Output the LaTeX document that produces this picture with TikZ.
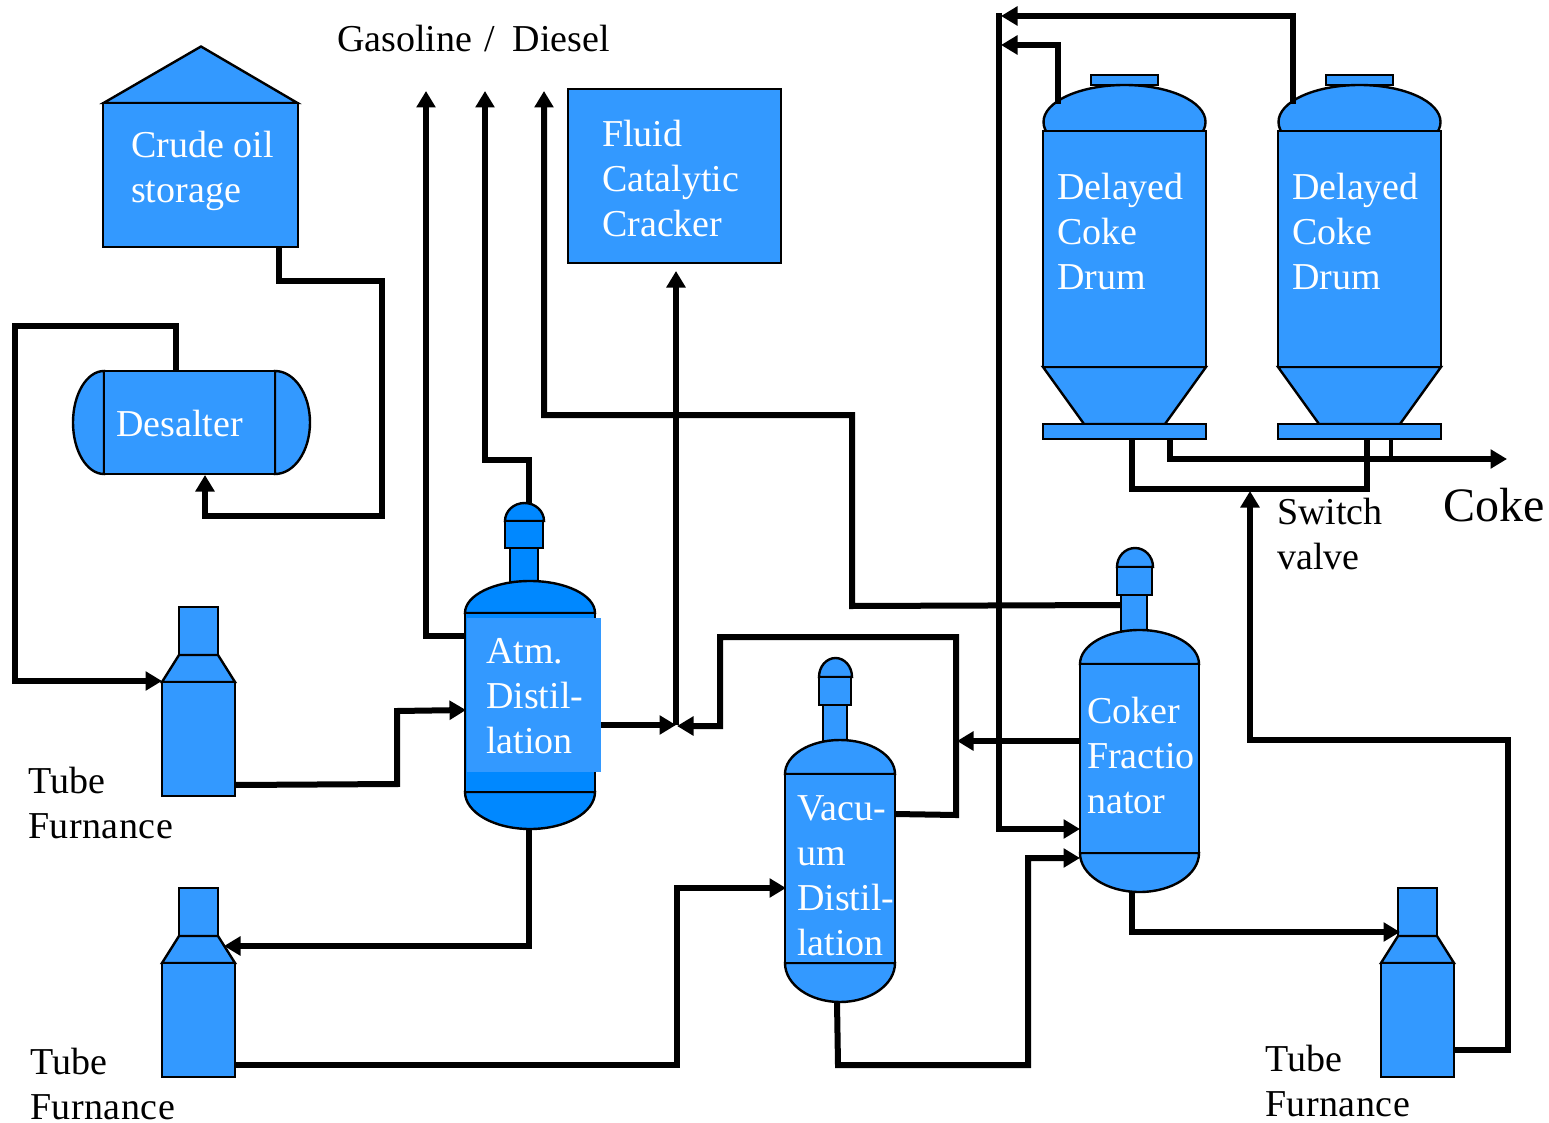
\documentclass[tikz,border=0pt]{standalone}
\usepackage{fontspec}
\setmainfont{Liberation Serif}
\usetikzlibrary{arrows.meta}
\definecolor{blu}{HTML}{3399FF}
\definecolor{dblu}{HTML}{0088FF}
\tikzset{
  part/.style={draw=black,line width=2.4pt,fill=blu,line join=miter},
  dpart/.style={draw=black,line width=2.4pt,fill=dblu,line join=miter},
  flat/.style={fill=blu,draw=none},
  pipe/.style={draw=black,line width=6pt,line join=miter,line cap=butt},
  thinpipe/.style={draw=black,line width=4.5pt,line cap=butt},
  flow/.style={pipe,-{Triangle[length=16.5pt,width=18.5pt]}},
  wlab/.style={text=white,anchor=base west,inner sep=0,font=\fontsize{38}{45}\selectfont},
  blab/.style={text=black,anchor=base west,inner sep=0,font=\fontsize{38}{45}\selectfont},
  biglab/.style={text=black,anchor=base west,inner sep=0,font=\fontsize{48}{55}\selectfont}
}
\newcommand{\pbox}[6]{%
  \pgfmathsetmacro\pbcx{(#2+#4)/2}\pgfmathsetmacro\pbcy{(#3+#5)/2}%
  \pgfmathsetmacro\pbw{#4-#2}\pgfmathsetmacro\pbh{#5-#3}%
  \node[#6,minimum width=\pbw pt,minimum height=\pbh pt,inner sep=0pt,outer sep=0pt] (#1) at (\pbcx,\pbcy) {};}
\newcommand{\lines}[1]{\begin{tabular}[t]{@{}l@{}}#1\end{tabular}}
% vessel: name, style, xL, xR, headTop, bodyTop, bodyBot, botEnd
\newcommand{\vessel}[8]{%
  \pgfmathsetmacro\vrx{(#4-#3)/2}\pgfmathsetmacro\vtp{#6-#5}\pgfmathsetmacro\vbt{#8-#7}%
  \path[#2] (#3,#6) arc[start angle=180,end angle=360,x radius=\vrx,y radius=\vtp] -- cycle;
  \path[#2] (#3,#7) arc[start angle=180,end angle=0,x radius=\vrx,y radius=\vbt] -- cycle;
  \pbox{#1}{#3}{#6}{#4}{#7}{#2}}
% top fitting: style, domeL, domeR, domeTop, domeBot, boxL, boxR, boxBot
\newcommand{\fitting}[8]{%
  \pgfmathsetmacro\frx{(#3-#2)/2}\pgfmathsetmacro\fry{#5-#4}%
  \path[#1] (#2,#5) arc[start angle=180,end angle=360,x radius=\frx,y radius=\fry] -- cycle;
  \path[#1] (#6,#5) rectangle (#7,#8);}
% furnace: dx, dy
\newcommand{\furnace}[2]{%
  \begin{scope}[shift={(#1,#2)}]
  \path[part] (179,607) rectangle (218,655);
  \path[part] (179,655) -- (218,655) -- (235,682) -- (162,682) -- cycle;
  \path[part] (162,682) rectangle (235,796);
  \end{scope}}
% coke drum
\newcommand{\drum}[2]{%
  \begin{scope}[shift={(#2,0)}]
  \path[part] (1091,75) rectangle (1158,85);
  \path[part] (1124.5,122) ellipse[x radius=81,y radius=37];
  \path[part] (1043,367) -- (1206,367) -- (1165,424) -- (1084,424) -- cycle;
  \path[part] (1043,424) rectangle (1206,439);
  \path[part] (1043,131) rectangle (1206,367);
  \node[wlab] (#1lab) at (1057,200) {\lines{Delayed\\Coke\\Drum}};
  \end{scope}}
\begin{document}
\begin{tikzpicture}[x=1pt,y=-1pt]
\useasboundingbox (0,0) rectangle (1549,1123);
% crude storage
\path[part] (103.5,103) -- (201,46.5) -- (297.5,103) -- cycle;
\pbox{crude}{103}{103}{298}{247}{part}
\node[wlab] (crudelab) at (131,158) {\lines{Crude oil\\storage}};
% FCC
\pbox{fcc}{568}{89}{781}{263}{part}
\node[wlab] (fcclab) at (602,147) {\lines{Fluid\\Catalytic\\Cracker}};
% desalter
\path[part] (104,371) arc[start angle=270,end angle=90,x radius=31,y radius=51.5] -- cycle;
\path[part] (275,371) arc[start angle=270,end angle=450,x radius=35,y radius=51.5] -- cycle;
\pbox{desalter}{104}{371}{275}{474}{part}
\node[wlab] (desalterlab) at (116,436) {Desalter};
% furnaces
\furnace{0}{0}
\furnace{0}{281}
\furnace{1219}{281}
% atmospheric column
\path[dpart] (510,548) rectangle (538,582);
\fitting{dpart}{505}{544}{503}{521}{505}{543}{548}
\vessel{atm}{dpart}{465}{595}{581}{613}{792}{829}
\pbox{atmtext}{467}{618}{601}{772}{flat}
\node[wlab] (atmlab) at (486,663) {\lines{Atm.\\Distil-\\lation}};
% vacuum column
\path[part] (823,705) rectangle (847,741);
\fitting{part}{819}{852}{658}{677}{819}{851}{705}
\vessel{vac}{part}{785}{895}{740}{774}{963}{1002}
\node[wlab] (vaclab) at (797,820) {\lines{Vacu-\\um\\Distil-\\lation}};
% coker fractionator
\path[part] (1121,595) rectangle (1147,631);
\fitting{part}{1117}{1153}{548}{567}{1117}{1152}{595}
\vessel{cok}{part}{1080}{1199}{630}{664}{853}{892}
\node[wlab] (coklab) at (1087,723) {\lines{Coker\\Fractio\\nator}};
% drums
\drum{da}{0}
\drum{db}{235}
% labels
\node[blab] (gas) at (337,52) {Gasoline\hspace{3pt} /\hspace{8pt} Diesel};
\node[blab] (tubea) at (28,793) {Tube};
\node[blab] (furna) at (28,838) {\addfontfeature{LetterSpace=1.3}Furnance};
\node[blab] (tubeb) at (30,1074) {Tube};
\node[blab] (furnb) at (30,1119) {\addfontfeature{LetterSpace=1.3}Furnance};
\node[blab] (tubec) at (1265,1071) {Tube};
\node[blab] (furnc) at (1265,1116) {\addfontfeature{LetterSpace=1.3}Furnance};
\node[blab] (switch) at (1277,524) {\lines{Switch\\valve}};
\node[biglab] (cokelab) at (1443,521) {Coke};
% ports
\coordinate (crudeout) at (279,247);
\coordinate (desin) at (205,475);
\coordinate (desout) at (176,371);
\coordinate (fain) at (162,681);
\coordinate (faout) at (235,785);
\coordinate (atmin) at (466,710);
\coordinate (atmtop) at (529,503);
\coordinate (atmleft) at (465,636);
\coordinate (atmbot) at (529,829);
\coordinate (atmright) at (601,725);
\coordinate (junc) at (676,725);
\coordinate (fcin) at (676,271);
\coordinate (gasa) at (426,91);
\coordinate (gasb) at (485,91);
\coordinate (gasc) at (544,91);
\coordinate (fbin) at (224,946);
\coordinate (fbout) at (235,1065);
\coordinate (vacin) at (786,888);
\coordinate (vacright) at (895,814);
\coordinate (vacbot) at (837,1002);
\coordinate (jright) at (677,726);
\coordinate (cokleft) at (1081,741);
\coordinate (merge) at (957,741);
\coordinate (cokneck) at (1121,605);
\coordinate (cokina) at (1080,829);
\coordinate (cokinb) at (1080,858);
\coordinate (cokbot) at (1132,892);
\coordinate (fcin2) at (1400,932);
\coordinate (fcout) at (1455,1050);
\coordinate (swin) at (1250,491);
\coordinate (daout) at (1132,439);
\coordinate (dbout) at (1367,439);
\coordinate (dacoke) at (1170,439);
\coordinate (dbcoke) at (1391,439);
\coordinate (cokeend) at (1507,459);
\coordinate (rtop) at (999,13);
\coordinate (datop) at (1058,104);
\coordinate (dbtop) at (1293,104);
\coordinate (ra) at (1001,45);
\coordinate (rb) at (1001,16);
% connectors
\draw[flow] (crudeout) -- (279,281) -- (382,281) -- (382,516) -- (205,516) -- (desin);
\draw[flow] (desout) -- (176,326) -- (15,326) -- (15,681) -- (fain);
\draw[flow] (faout) -- (397,784) -- (397,711) -- (atmin);
\draw[flow] (atmtop) -- (529,460) -- (485,460) -- (gasb);
\draw[flow] (atmleft) -- (426,636) -- (gasa);
\draw[flow] (atmbot) -- (529,946) -- (fbin);
\draw[flow] (atmright) -- (junc);
\draw[flow] (junc) -- (fcin);
\draw[flow] (vacright) -- (956,815) -- (956,637) -- (720,637) -- (720,726) -- (jright);
\draw[flow] (cokleft) -- (merge);
\draw[flow] (cokneck) -- (852,606) -- (852,415) -- (544,415) -- (gasc);
\draw[flow] (fbout) -- (677,1065) -- (677,888) -- (vacin);
\draw[flow] (vacbot) -- (838,1065) -- (1028,1065) -- (1028,858) -- (cokinb);
\draw[flow] (cokbot) -- (1132,932) -- (fcin2);
\draw[flow] (fcout) -- (1508,1050) -- (1508,740) -- (1250,740) -- (swin);
\draw[pipe] (daout) -- (1132,489) -- (1367,489) -- (dbout);
\draw[flow] (dacoke) -- (1170,459) -- (cokeend);
\draw[thinpipe] (dbcoke) -- (1391,459);
\draw[flow] (rtop) -- (999,829) -- (cokina);
\draw[flow] (datop) -- (1058,45) -- (ra);
\draw[flow] (dbtop) -- (1293,16) -- (rb);
\end{tikzpicture}
\end{document}
